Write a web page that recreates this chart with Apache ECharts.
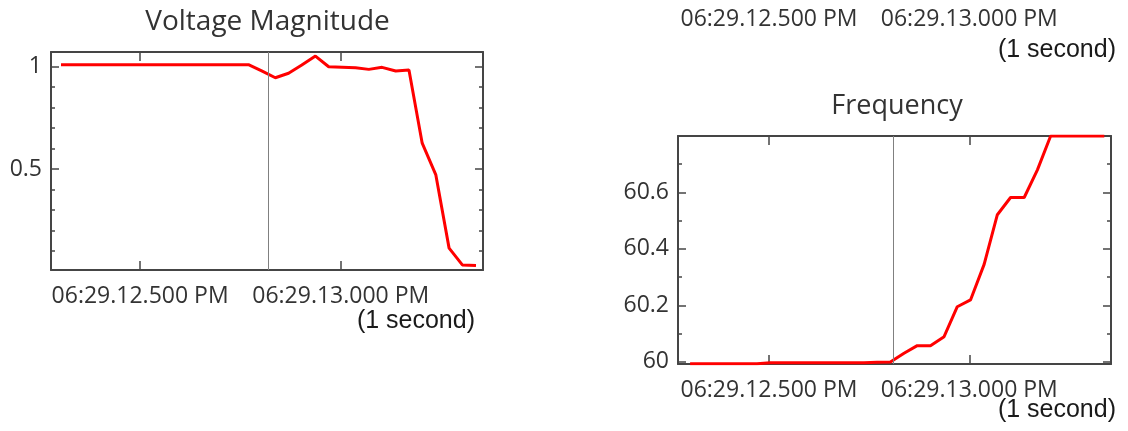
<!DOCTYPE html>
<html><head><meta charset="utf-8">
<script src="https://cdn.jsdelivr.net/npm/echarts@6/dist/echarts.min.js"></script>
<style>html,body{margin:0;padding:0;background:#fff}#c{width:1128px;height:431px}</style>
</head><body><div id="c"></div>
<script>
// ---- data ----
const sampleTimes = [12.303, 12.337, 12.370, 12.403, 12.437, 12.470, 12.503, 12.537, 12.570, 12.603,
  12.637, 12.670, 12.703, 12.737, 12.770, 12.803, 12.837, 12.870, 12.903, 12.937,
  12.970, 13.003, 13.037, 13.070, 13.103, 13.137, 13.170, 13.203, 13.237, 13.270,
  13.303, 13.337];
const voltage = [1.01, 1.01, 1.01, 1.01, 1.01, 1.01, 1.01, 1.01, 1.01, 1.01,
  1.01, 1.01, 1.01, 1.01, 1.01, 0.98, 0.946, 0.968, 1.008, 1.052,
  1.0, 0.998, 0.995, 0.987, 0.997, 0.979, 0.984, 0.626, 0.471, 0.113,
  0.031, 0.028];
const frequency = [59.993, 59.993, 59.993, 59.993, 59.993, 59.993, 59.996, 59.996, 59.996, 59.996,
  59.996, 59.996, 59.996, 59.996, 59.998, 59.999, 60.030, 60.057, 60.057, 60.089,
  60.195, 60.219, 60.345, 60.521, 60.582, 60.582, 60.680, 60.80, 60.80, 60.80,
  60.80, 60.80];
const eventTimes = [12.818, 12.810];
const xTickValues = [12.5, 13.0];
const xTickLabels = ['06:29.12.500 PM', '06:29.13.000 PM'];
const voltMajorTicks = [0.5, 1];
const voltMinorTicks = [0.1, 0.2, 0.3, 0.4, 0.6, 0.7, 0.8, 0.9];
const freqMajorTicks = [60, 60.2, 60.4, 60.6];
const freqMinorTicks = [60.1, 60.3, 60.5, 60.7];
const chartTitles = ['Voltage Magnitude', 'Frequency'];
const spanLabel = '(1 second)';

// ---- styling ----
const FRAME = '#454545';
const TXT = '#333333';
const FONT = '"Open Sans"';

function xLabel(v) {
  let best = 0;
  for (let i = 1; i < xTickValues.length; i++) if (Math.abs(xTickValues[i] - v) < Math.abs(xTickValues[best] - v)) best = i;
  return xTickLabels[best];
}

function makeX(gridIndex, min, max, position, labels, frame) {
  return {
    type: 'value', gridIndex, min, max, position,
    splitLine: { show: false },
    axisLine: { show: frame, onZero: false, lineStyle: { color: FRAME, width: 2 } },
    axisTick: { show: frame, inside: true, length: 9, customValues: xTickValues, lineStyle: { color: FRAME, width: 1.5 } },
    axisLabel: { show: labels, customValues: xTickValues, formatter: xLabel, margin: 15,
      fontFamily: FONT, fontSize: 23, color: TXT }
  };
}
function makeY(gridIndex, min, max, position, major, minor, labels) {
  const common = { type: 'value', gridIndex, min, max, position, splitLine: { show: false } };
  return [
    Object.assign({}, common, {
      axisLine: { show: true, onZero: false, lineStyle: { color: FRAME, width: 2 } },
      axisTick: { show: true, inside: true, length: 8, customValues: major, lineStyle: { color: FRAME, width: 1.5 } },
      axisLabel: { show: labels, customValues: major, margin: 9, fontFamily: FONT, fontSize: 23, color: TXT }
    }),
    Object.assign({}, common, {
      axisLine: { show: false },
      axisTick: { show: true, inside: true, length: 4, customValues: minor, lineStyle: { color: FRAME, width: 1.5 } },
      axisLabel: { show: false }
    })
  ];
}

const grids = [
  { left: 51, top: 52, width: 432, height: 218, outerBoundsMode: 'none', containLabel: false },
  { left: 678, top: 136, width: 433, height: 228, outerBoundsMode: 'none', containLabel: false },
  { left: 678, top: -120, width: 433, height: 113, outerBoundsMode: 'none', containLabel: false }
];
const xr = [[12.278, 13.3545], [12.2728, 13.3537], [12.2728, 13.3537]];
const yr = [[0.006, 1.072], [59.992, 60.80]];

const xAxis = [
  makeX(0, xr[0][0], xr[0][1], 'bottom', true, true),
  makeX(0, xr[0][0], xr[0][1], 'top', false, true),
  makeX(1, xr[1][0], xr[1][1], 'bottom', true, true),
  makeX(1, xr[1][0], xr[1][1], 'top', false, true),
  makeX(2, xr[2][0], xr[2][1], 'bottom', true, false)
];
const yAxis = [].concat(
  makeY(0, yr[0][0], yr[0][1], 'left', voltMajorTicks, voltMinorTicks, true),
  makeY(0, yr[0][0], yr[0][1], 'right', voltMajorTicks, voltMinorTicks, false),
  makeY(1, yr[1][0], yr[1][1], 'left', freqMajorTicks, freqMinorTicks, true),
  makeY(1, yr[1][0], yr[1][1], 'right', freqMajorTicks, freqMinorTicks, false),
  [{ type: 'value', gridIndex: 2, min: 0, max: 1, show: false }]
);

function eventLine(t) {
  return {
    silent: true, symbol: 'none', label: { show: false },
    lineStyle: { color: '#808080', width: 1, type: 'solid' },
    data: [{ xAxis: t }]
  };
}

const series = [
  { type: 'line', xAxisIndex: 0, yAxisIndex: 0, showSymbol: false, z: 3,
    lineStyle: { color: '#ff0000', width: 3 }, itemStyle: { color: '#ff0000' },
    data: sampleTimes.map((t, i) => [t, voltage[i]]), markLine: eventLine(eventTimes[0]) },
  { type: 'line', xAxisIndex: 2, yAxisIndex: 4, showSymbol: false, z: 3,
    lineStyle: { color: '#ff0000', width: 3 }, itemStyle: { color: '#ff0000' },
    data: sampleTimes.map((t, i) => [t, frequency[i]]), markLine: eventLine(eventTimes[1]) }
];

const SPAN_FONT = '25px "Liberation Sans"';
const graphic = [
  { type: 'text', x: 267.5, y: 22, silent: true, style: { text: chartTitles[0], font: '28px ' + FONT, fill: TXT, align: 'center', verticalAlign: 'middle' } },
  { type: 'text', x: 897, y: 106, silent: true, style: { text: chartTitles[1], font: '27px ' + FONT, fill: TXT, align: 'center', verticalAlign: 'middle' } },
  { type: 'text', x: 475, y: 321.5, silent: true, style: { text: spanLabel, font: SPAN_FONT, fill: '#1a1a1a', align: 'right', verticalAlign: 'middle' } },
  { type: 'text', x: 1116, y: 50.5, silent: true, style: { text: spanLabel, font: SPAN_FONT, fill: '#1a1a1a', align: 'right', verticalAlign: 'middle' } },
  { type: 'text', x: 1116, y: 410.5, silent: true, style: { text: spanLabel, font: SPAN_FONT, fill: '#1a1a1a', align: 'right', verticalAlign: 'middle' } }
];

const chart = echarts.init(document.getElementById('c'), null, { renderer: 'canvas' });
chart.setOption({
  animation: false,
  backgroundColor: '#ffffff',
  grid: grids, xAxis, yAxis, series, graphic
});
</script>
</body></html>
